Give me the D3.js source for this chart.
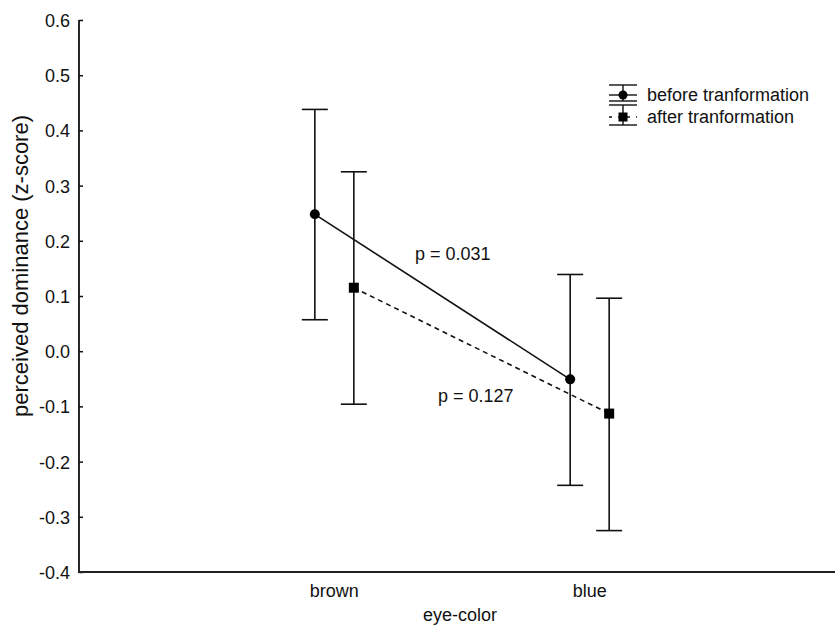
<!DOCTYPE html>
<html>
<head>
<meta charset="utf-8">
<script src="https://cdn.jsdelivr.net/npm/d3@7"></script>
<style>
  body { margin: 0; background: #fff; }
  svg text { font-family: "Liberation Sans", Arial, sans-serif; fill: #111; }
</style>
</head>
<body>
<svg id="chart"></svg>
<script>
// eye-color groups on the x axis
var categories = ["brown", "blue"];
var seriesNames = ["before tranformation", "after tranformation"];

// means and error bar ends
var beforeMean = [0.248, -0.051],
    beforeLow  = [0.057, -0.243],
    beforeHigh = [0.438, 0.139];
var afterMean  = [0.115, -0.113],
    afterLow   = [-0.096, -0.325],
    afterHigh  = [0.325, 0.096];

var yTicks = [-0.4, -0.3, -0.2, -0.1, 0.0, 0.1, 0.2, 0.3, 0.4, 0.5, 0.6];
var pLabels = ["p = 0.031", "p = 0.127"];

var W = 835, H = 631,
    mLeft = 79, mBottom = 572, mTop = 20;

var svg = d3.select("#chart").attr("width", W).attr("height", H);

var x = d3.scalePoint().domain(categories).range([mLeft, 845]).padding(1);
var y = d3.scaleLinear().domain([-0.4, 0.6]).range([mBottom, mTop]);

var offset = 19.5,  // before / after side by side
    capW = 13;

var series = [
  { name: seriesNames[0], mean: beforeMean, lo: beforeLow, hi: beforeHigh, dx: -offset, dash: null, shape: "circle" },
  { name: seriesNames[1], mean: afterMean,  lo: afterLow,  hi: afterHigh,  dx: offset,  dash: "5,4", shape: "square" }
];

// plain hyphen for negatives, like the original
var fmt = function(d) { return d.toFixed(1); };

// y axis, ticks pointing inward
var yAxis = svg.append("g")
    .attr("transform", "translate(" + mLeft + ",0)")
    .call(d3.axisRight(y).tickValues(yTicks).tickSize(4).tickFormat(fmt));
yAxis.select(".domain").remove();
yAxis.selectAll("line").attr("stroke", "#111").attr("stroke-width", 1.5);
yAxis.selectAll("text")
    .attr("x", -9)
    .attr("dy", "0.36em")
    .attr("text-anchor", "end")
    .style("font-size", "18px");

svg.append("line")
    .attr("x1", mLeft).attr("x2", mLeft)
    .attr("y1", mTop).attr("y2", mBottom + 1)
    .attr("stroke", "#111").attr("stroke-width", 1.8);

// x axis line and category labels
svg.append("line")
    .attr("x1", mLeft - 1).attr("x2", W)
    .attr("y1", mBottom).attr("y2", mBottom)
    .attr("stroke", "#222").attr("stroke-width", 2.2);

svg.selectAll(".cat")
  .data(categories)
  .enter().append("text")
    .attr("class", "cat")
    .attr("x", function(d) { return x(d); })
    .attr("y", 597)
    .attr("text-anchor", "middle")
    .style("font-size", "18px")
    .text(function(d) { return d; });

svg.append("text")
    .attr("x", (mLeft + W) / 2 + 3)
    .attr("y", 621)
    .attr("text-anchor", "middle")
    .style("font-size", "18px")
    .text("eye-color");

svg.append("text")
    .attr("transform", "translate(28," + 266 + ") rotate(-90)")
    .attr("text-anchor", "middle")
    .style("font-size", "22px")
    .text("perceived dominance (z-score)");

// connecting lines
series.forEach(function(s) {
  var line = d3.line()
      .x(function(d, i) { return x(categories[i]) + s.dx; })
      .y(function(d) { return y(d); });
  svg.append("path")
      .datum(s.mean)
      .attr("d", line)
      .attr("fill", "none")
      .attr("stroke", "#111")
      .attr("stroke-width", 1.6)
      .attr("stroke-dasharray", s.dash);
});

// error bars and markers
series.forEach(function(s) {
  var g = svg.append("g");
  categories.forEach(function(c, i) {
    var cx = x(c) + s.dx;
    g.append("line")
        .attr("x1", cx).attr("x2", cx)
        .attr("y1", y(s.hi[i])).attr("y2", y(s.lo[i]))
        .attr("stroke", "#111").attr("stroke-width", 1.6);
    [s.hi[i], s.lo[i]].forEach(function(v) {
      g.append("line")
          .attr("x1", cx - capW).attr("x2", cx + capW)
          .attr("y1", y(v)).attr("y2", y(v))
          .attr("stroke", "#111").attr("stroke-width", 1.6);
    });
    if (s.shape == "circle") {
      g.append("circle").attr("cx", cx).attr("cy", y(s.mean[i])).attr("r", 5).attr("fill", "#000");
    } else {
      g.append("rect").attr("x", cx - 5).attr("y", y(s.mean[i]) - 5)
          .attr("width", 10).attr("height", 10).attr("fill", "#000");
    }
  });
});

// p-value labels
svg.append("text").attr("x", 415).attr("y", 260).style("font-size", "18px").text(pLabels[0]);
svg.append("text").attr("x", 438).attr("y", 402).style("font-size", "18px").text(pLabels[1]);

// legend
var lx = 623, lw = 14;
var legend = svg.append("g");
var legendRows = [
  { top: 85, mid: 95, bot: 101 },
  { top: 105, mid: 117, bot: 125 }
];
series.forEach(function(s, i) {
  var r = legendRows[i];
  legend.append("line").attr("x1", lx).attr("x2", lx).attr("y1", r.top).attr("y2", r.bot)
      .attr("stroke", "#111").attr("stroke-width", 1.4);
  [r.top, r.bot].forEach(function(yy) {
    legend.append("line").attr("x1", lx - lw).attr("x2", lx + lw).attr("y1", yy).attr("y2", yy)
        .attr("stroke", "#111").attr("stroke-width", 1.4);
  });
  legend.append("line").attr("x1", lx - lw).attr("x2", lx + lw).attr("y1", r.mid).attr("y2", r.mid)
      .attr("stroke", "#111").attr("stroke-width", 1.4).attr("stroke-dasharray", s.dash ? "3,6" : null);
  if (s.shape == "circle") {
    legend.append("circle").attr("cx", lx).attr("cy", r.mid).attr("r", 4.5).attr("fill", "#000");
  } else {
    legend.append("rect").attr("x", lx - 4.5).attr("y", r.mid - 4.5).attr("width", 9).attr("height", 9).attr("fill", "#000");
  }
  legend.append("text")
      .attr("x", 647)
      .attr("y", i == 0 ? 101 : 123)
      .style("font-size", "18px")
      .text(s.name);
});
</script>
</body>
</html>
